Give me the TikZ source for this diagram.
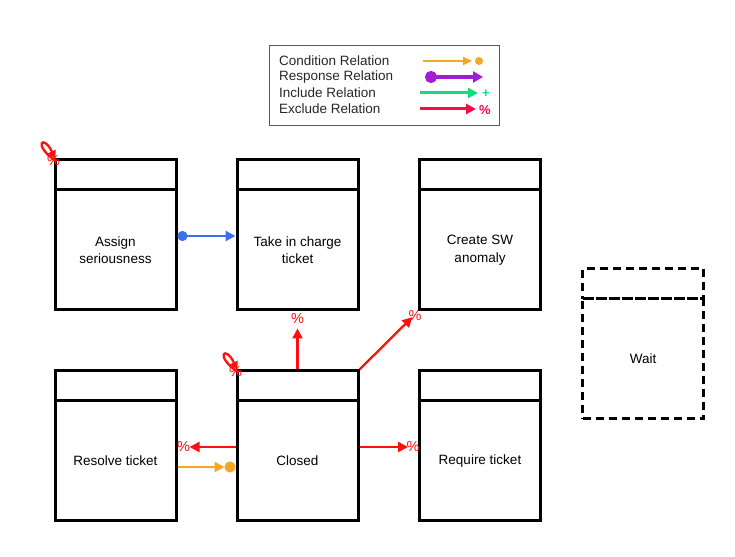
\documentclass[tikz,border=0pt]{standalone}
\usepackage{fontspec}
\setmainfont{Liberation Sans}
\usetikzlibrary{arrows.meta}
\definecolor{exred}{HTML}{FF1010}
\definecolor{condor}{HTML}{F5A623}
\definecolor{blu}{HTML}{3B6FF0}
\definecolor{respur}{HTML}{A21CD6}
\definecolor{incgr}{HTML}{10DC80}
\definecolor{expink}{HTML}{FF0848}
\begin{document}
\begin{tikzpicture}[x=1pt,y=1pt,
  head/.style={draw,line width=3pt,minimum width=121pt,minimum height=30pt,inner sep=0pt},
  body/.style={draw,line width=3pt,minimum width=121pt,minimum height=120pt,inner sep=0pt,align=center,font=\fontsize{13.5}{17.5}\selectfont},
  dhead/.style={head,dashed,dash pattern=on 8pt off 5pt},
  dbody/.style={body,dashed,dash pattern=on 8pt off 5pt},
  excl/.style={draw=exred,line width=2.3pt,-{Triangle[length=10pt,width=10pt]}},
  pct/.style={text=exred,font=\fontsize{14.5}{14.5}\selectfont,inner sep=0pt},
  leg/.style={anchor=west,text=black!85,font=\fontsize{13.5}{14}\selectfont,inner sep=0pt}
]
\useasboundingbox (0,0) rectangle (735,556);
% legend
\node[draw=black!65,line width=1.5pt,minimum width=230pt,minimum height=80pt,inner sep=0pt] (legend) at (384.5,470.5) {};
\node[leg] (l1) at (279,495) {Condition Relation};
\node[leg] (l2) at (279,479) {Response Relation};
\node[leg] (l3) at (279,463) {Include Relation};
\node[leg] (l4) at (279,447) {Exclude Relation};
\coordinate (c1a) at (423,495); \coordinate (c1b) at (472,495);
\draw[draw=condor,line width=1.8pt,-{Triangle[length=9pt,width=8pt]}] (c1a) -- (c1b);
\fill[condor] (479,495) circle (4pt);
\coordinate (c2a) at (425,479); \coordinate (c2b) at (483,479);
\draw[draw=respur,line width=3.5pt,{Circle[length=12pt]}-{Triangle[length=10pt,width=11pt]}] (c2a) -- (c2b);
\coordinate (c3a) at (420,463); \coordinate (c3b) at (478,463);
\draw[draw=incgr,line width=3pt,-{Triangle[length=10pt,width=10pt]}] (c3a) -- (c3b);
\node[text=incgr,font=\bfseries\fontsize{13}{13}\selectfont,inner sep=0pt] (plus) at (486,462) {+};
\coordinate (c4a) at (420,447); \coordinate (c4b) at (476,447);
\draw[draw=expink,line width=3pt,-{Triangle[length=10pt,width=10pt]}] (c4a) -- (c4b);
\node[text=expink,font=\bfseries\fontsize{13}{13}\selectfont,inner sep=0pt] (pcl) at (485,446) {\%};
% boxes
\node[head] (assignh) at (115.5,381) {};
\node[body] (assign) at (115.5,306) {Assign\\seriousness};
\node[head] (takeh) at (297.5,381) {};
\node[body] (take) at (297.5,306) {Take in charge\\ticket};
\node[head] (createh) at (480,381) {};
\node[body] (create) at (480,306) {Create SW\\anomaly};
\node[head] (resolveh) at (115.5,170) {};
\node[body] (resolve) at (115.5,95) {Resolve ticket};
\node[head] (closedh) at (297.5,170) {};
\node[body] (closed) at (297.5,95) {Closed};
\node[head] (requireh) at (480,170) {};
\node[body] (require) at (480,95) {Require ticket};
\node[dhead] (waith) at (643,272) {};
\node[dbody] (wait) at (643,197) {Wait};
% connectors
\draw[draw=blu,line width=2.3pt,{Circle[length=10pt]}-{Triangle[length=10pt,width=10pt]}] ([yshift=14pt]assign.east) -- ([yshift=14pt]take.west);
\draw[excl,shorten >=17pt] (closedh.north) -- (take.south) node[pct,pos=1,yshift=-7pt] (p1) {\%};
\draw[excl,shorten >=8pt] (closedh.north east) -- (create.south west) node[pct,pos=1,xshift=-3pt,yshift=-4pt] (p2) {\%};
\draw[excl,shorten >=12pt] ([yshift=14pt]closed.west) -- ([yshift=14pt]resolve.east) node[pct,pos=1,xshift=6pt] (p3) {\%};
\draw[excl,shorten >=10pt] ([yshift=14pt]closed.east) -- ([yshift=14pt]require.west) node[pct,pos=1,xshift=-5pt] (p4) {\%};
\draw[draw=condor,line width=2.3pt,-{Triangle[length=10pt,width=10pt]. Circle[length=11pt]}] ([yshift=-6pt]resolve.east) -- ([yshift=-6pt]closed.west);
% self loops
\draw[excl,-{Triangle[length=8pt,width=8pt]},shorten >=3pt] ([xshift=3pt,yshift=-3pt]assignh.north west) .. controls +(-25,17) and +(-13,28) .. ([xshift=3pt,yshift=-3pt]assignh.north west);
\node[pct] (p5) at ([xshift=0pt,yshift=-2pt]assignh.north west) {\%};
\draw[excl,-{Triangle[length=8pt,width=8pt]},shorten >=3pt] ([xshift=3pt,yshift=-3pt]closedh.north west) .. controls +(-25,17) and +(-13,28) .. ([xshift=3pt,yshift=-3pt]closedh.north west);
\node[pct] (p6) at ([xshift=0pt,yshift=-2pt]closedh.north west) {\%};
\end{tikzpicture}
\end{document}
